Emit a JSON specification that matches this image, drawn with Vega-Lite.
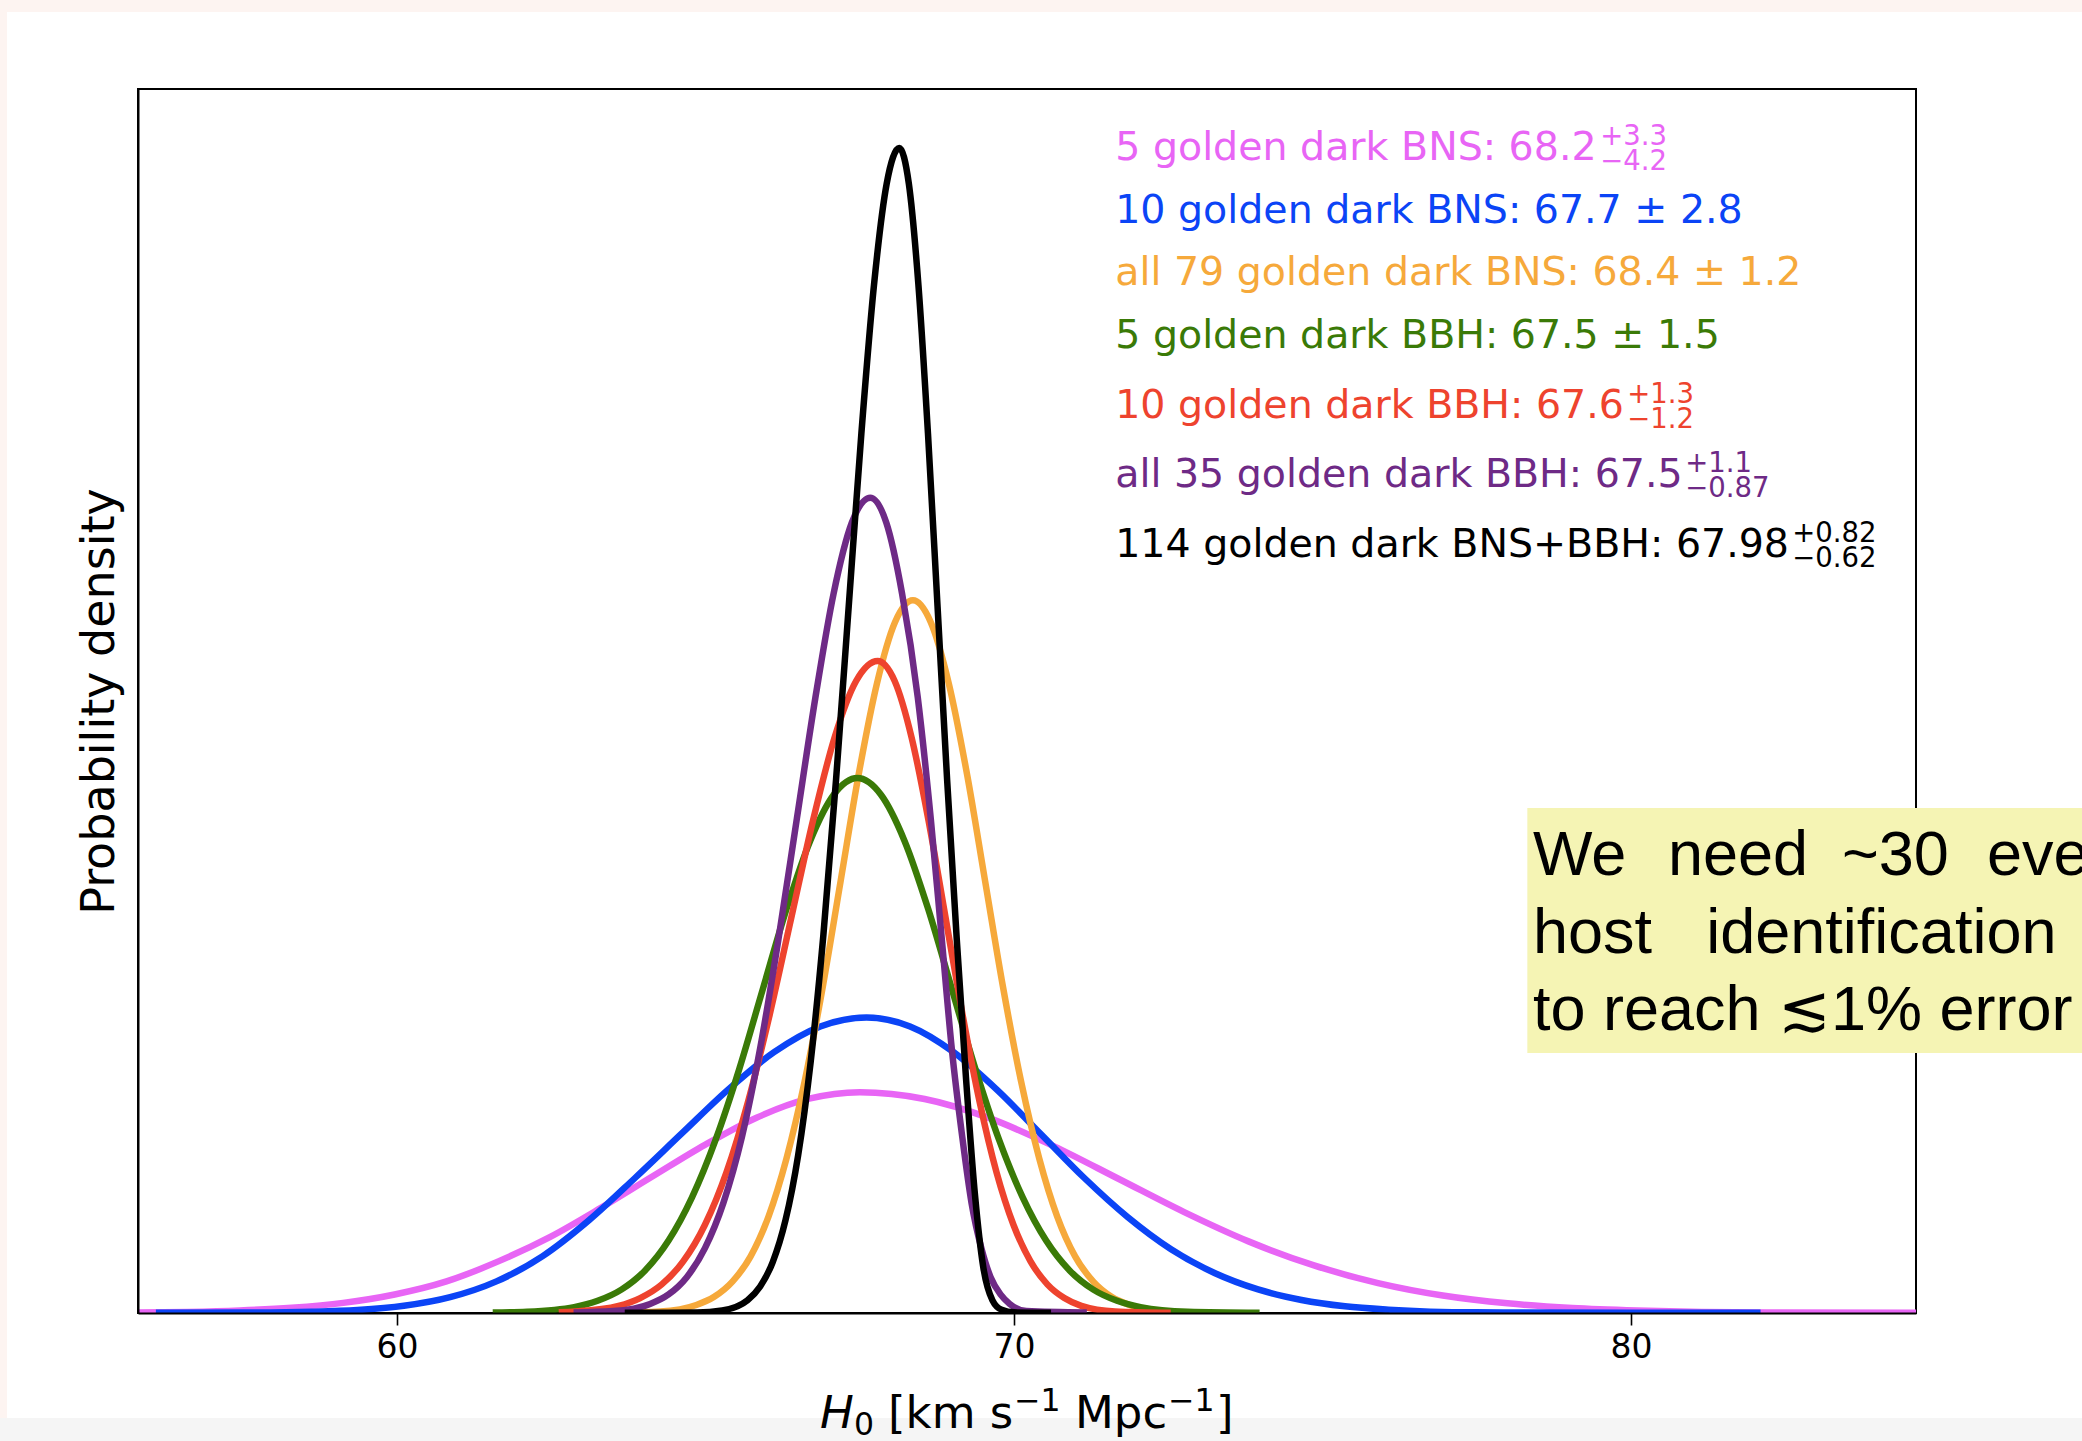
{
  "$schema": "https://vega.github.io/schema/vega-lite/v6.json",
  "width": 1778,
  "height": 1224,
  "autosize": {"type": "none"},
  "padding": {"left": 138, "top": 89, "right": 166, "bottom": 128},
  "background": "#fdf4f1",
  "config": {"view": {"stroke": null}},
  "datasets": {
    "curves": [
      {"s": "5 BNS", "h": 55.8, "p": 0.0002}, {"s": "5 BNS", "h": 56.61, "p": 0.0005}, {"s": "5 BNS", "h": 57.45, "p": 0.0012},
      {"s": "5 BNS", "h": 58.29, "p": 0.0025}, {"s": "5 BNS", "h": 59.125, "p": 0.0048}, {"s": "5 BNS", "h": 59.96, "p": 0.0088},
      {"s": "5 BNS", "h": 60.8, "p": 0.015}, {"s": "5 BNS", "h": 61.64, "p": 0.0245}, {"s": "5 BNS", "h": 62.475, "p": 0.036},
      {"s": "5 BNS", "h": 63.31, "p": 0.05}, {"s": "5 BNS", "h": 64.15, "p": 0.065}, {"s": "5 BNS", "h": 64.99, "p": 0.0798},
      {"s": "5 BNS", "h": 65.825, "p": 0.0927}, {"s": "5 BNS", "h": 66.66, "p": 0.1016}, {"s": "5 BNS", "h": 67.5, "p": 0.1048},
      {"s": "5 BNS", "h": 68.55, "p": 0.1016}, {"s": "5 BNS", "h": 69.6, "p": 0.0925}, {"s": "5 BNS", "h": 70.65, "p": 0.0791},
      {"s": "5 BNS", "h": 71.7, "p": 0.0636}, {"s": "5 BNS", "h": 72.75, "p": 0.048}, {"s": "5 BNS", "h": 73.8, "p": 0.034},
      {"s": "5 BNS", "h": 74.85, "p": 0.0227}, {"s": "5 BNS", "h": 75.9, "p": 0.0142}, {"s": "5 BNS", "h": 76.95, "p": 0.0083},
      {"s": "5 BNS", "h": 78.0, "p": 0.0046}, {"s": "5 BNS", "h": 79.05, "p": 0.0024}, {"s": "5 BNS", "h": 80.1, "p": 0.0012},
      {"s": "5 BNS", "h": 81.15, "p": 0.0005}, {"s": "5 BNS", "h": 82.2, "p": 0.0002}, {"s": "5 BNS", "h": 84.62, "p": 0.0001},

      {"s": "10 BNS", "h": 56.09, "p": 0.0001}, {"s": "10 BNS", "h": 57.5, "p": 0.0002}, {"s": "10 BNS", "h": 58.61, "p": 0.0006},
      {"s": "10 BNS", "h": 59.36, "p": 0.0014}, {"s": "10 BNS", "h": 60.11, "p": 0.0034}, {"s": "10 BNS", "h": 60.86, "p": 0.0075},
      {"s": "10 BNS", "h": 61.61, "p": 0.015}, {"s": "10 BNS", "h": 62.36, "p": 0.027}, {"s": "10 BNS", "h": 63.11, "p": 0.044},
      {"s": "10 BNS", "h": 63.86, "p": 0.0642}, {"s": "10 BNS", "h": 64.61, "p": 0.0851}, {"s": "10 BNS", "h": 65.36, "p": 0.1059},
      {"s": "10 BNS", "h": 66.11, "p": 0.1238}, {"s": "10 BNS", "h": 66.86, "p": 0.136}, {"s": "10 BNS", "h": 67.61, "p": 0.1403},
      {"s": "10 BNS", "h": 68.315, "p": 0.136}, {"s": "10 BNS", "h": 69.02, "p": 0.1238}, {"s": "10 BNS", "h": 69.725, "p": 0.1059},
      {"s": "10 BNS", "h": 70.43, "p": 0.0851}, {"s": "10 BNS", "h": 71.135, "p": 0.0642}, {"s": "10 BNS", "h": 71.84, "p": 0.0456},
      {"s": "10 BNS", "h": 72.545, "p": 0.0303}, {"s": "10 BNS", "h": 73.25, "p": 0.019}, {"s": "10 BNS", "h": 73.955, "p": 0.0112},
      {"s": "10 BNS", "h": 74.66, "p": 0.0062}, {"s": "10 BNS", "h": 75.365, "p": 0.0032}, {"s": "10 BNS", "h": 76.07, "p": 0.0016},
      {"s": "10 BNS", "h": 77.48, "p": 0.0003}, {"s": "10 BNS", "h": 80.0, "p": 0.0001}, {"s": "10 BNS", "h": 82.1, "p": 0.0001},

      {"s": "79 BNS", "h": 63.5, "p": 0.0001}, {"s": "79 BNS", "h": 64.265, "p": 0.0007}, {"s": "79 BNS", "h": 64.85, "p": 0.0038},
      {"s": "79 BNS", "h": 65.14, "p": 0.0077}, {"s": "79 BNS", "h": 65.435, "p": 0.0149}, {"s": "79 BNS", "h": 65.73, "p": 0.0269},
      {"s": "79 BNS", "h": 66.02, "p": 0.0458}, {"s": "79 BNS", "h": 66.31, "p": 0.0732}, {"s": "79 BNS", "h": 66.605, "p": 0.1098},
      {"s": "79 BNS", "h": 66.9, "p": 0.1549}, {"s": "79 BNS", "h": 67.19, "p": 0.2052}, {"s": "79 BNS", "h": 67.48, "p": 0.2554},
      {"s": "79 BNS", "h": 67.775, "p": 0.2985}, {"s": "79 BNS", "h": 68.07, "p": 0.3279}, {"s": "79 BNS", "h": 68.36, "p": 0.3383},
      {"s": "79 BNS", "h": 68.65, "p": 0.3279}, {"s": "79 BNS", "h": 68.945, "p": 0.2985}, {"s": "79 BNS", "h": 69.24, "p": 0.2554},
      {"s": "79 BNS", "h": 69.53, "p": 0.2052}, {"s": "79 BNS", "h": 69.82, "p": 0.1549}, {"s": "79 BNS", "h": 70.115, "p": 0.1098},
      {"s": "79 BNS", "h": 70.41, "p": 0.0732}, {"s": "79 BNS", "h": 70.7, "p": 0.0458}, {"s": "79 BNS", "h": 70.99, "p": 0.0269},
      {"s": "79 BNS", "h": 71.285, "p": 0.0149}, {"s": "79 BNS", "h": 71.58, "p": 0.0077}, {"s": "79 BNS", "h": 71.87, "p": 0.0038},
      {"s": "79 BNS", "h": 72.455, "p": 0.0007},

      {"s": "5 BBH", "h": 61.55, "p": 0.0002}, {"s": "5 BBH", "h": 62.105, "p": 0.0006}, {"s": "5 BBH", "h": 62.87, "p": 0.0028},
      {"s": "5 BBH", "h": 63.25, "p": 0.0058}, {"s": "5 BBH", "h": 63.635, "p": 0.0111}, {"s": "5 BBH", "h": 64.02, "p": 0.0202},
      {"s": "5 BBH", "h": 64.4, "p": 0.0344}, {"s": "5 BBH", "h": 64.78, "p": 0.0549}, {"s": "5 BBH", "h": 65.165, "p": 0.0824},
      {"s": "5 BBH", "h": 65.55, "p": 0.1162}, {"s": "5 BBH", "h": 65.93, "p": 0.154}, {"s": "5 BBH", "h": 66.31, "p": 0.1916},
      {"s": "5 BBH", "h": 66.695, "p": 0.2241}, {"s": "5 BBH", "h": 67.08, "p": 0.2461}, {"s": "5 BBH", "h": 67.46, "p": 0.2539},
      {"s": "5 BBH", "h": 67.84, "p": 0.2461}, {"s": "5 BBH", "h": 68.225, "p": 0.2241}, {"s": "5 BBH", "h": 68.61, "p": 0.1916},
      {"s": "5 BBH", "h": 68.99, "p": 0.154}, {"s": "5 BBH", "h": 69.37, "p": 0.1162}, {"s": "5 BBH", "h": 69.755, "p": 0.0824},
      {"s": "5 BBH", "h": 70.14, "p": 0.0549}, {"s": "5 BBH", "h": 70.52, "p": 0.0344}, {"s": "5 BBH", "h": 70.9, "p": 0.0202},
      {"s": "5 BBH", "h": 71.285, "p": 0.0111}, {"s": "5 BBH", "h": 71.67, "p": 0.0058}, {"s": "5 BBH", "h": 72.05, "p": 0.0028},
      {"s": "5 BBH", "h": 72.815, "p": 0.0006}, {"s": "5 BBH", "h": 73.98, "p": 0.0001},

      {"s": "10 BBH", "h": 62.62, "p": 0.0003}, {"s": "10 BBH", "h": 62.89, "p": 0.0007}, {"s": "10 BBH", "h": 63.59, "p": 0.0034},
      {"s": "10 BBH", "h": 63.94, "p": 0.0071}, {"s": "10 BBH", "h": 64.29, "p": 0.0136}, {"s": "10 BBH", "h": 64.64, "p": 0.0246},
      {"s": "10 BBH", "h": 64.99, "p": 0.0419}, {"s": "10 BBH", "h": 65.34, "p": 0.0669}, {"s": "10 BBH", "h": 65.69, "p": 0.1005},
      {"s": "10 BBH", "h": 66.04, "p": 0.1417}, {"s": "10 BBH", "h": 66.39, "p": 0.1877}, {"s": "10 BBH", "h": 66.74, "p": 0.2336},
      {"s": "10 BBH", "h": 67.09, "p": 0.2731}, {"s": "10 BBH", "h": 67.44, "p": 0.3}, {"s": "10 BBH", "h": 67.79, "p": 0.3095},
      {"s": "10 BBH", "h": 68.065, "p": 0.3}, {"s": "10 BBH", "h": 68.34, "p": 0.2731}, {"s": "10 BBH", "h": 68.615, "p": 0.2336},
      {"s": "10 BBH", "h": 68.89, "p": 0.1877}, {"s": "10 BBH", "h": 69.165, "p": 0.1417}, {"s": "10 BBH", "h": 69.44, "p": 0.1005},
      {"s": "10 BBH", "h": 69.715, "p": 0.0669}, {"s": "10 BBH", "h": 69.99, "p": 0.0419}, {"s": "10 BBH", "h": 70.265, "p": 0.0246},
      {"s": "10 BBH", "h": 70.54, "p": 0.0136}, {"s": "10 BBH", "h": 70.815, "p": 0.0071}, {"s": "10 BBH", "h": 71.09, "p": 0.0034},
      {"s": "10 BBH", "h": 71.64, "p": 0.0007}, {"s": "10 BBH", "h": 72.54, "p": 0.0001},

      {"s": "35 BBH", "h": 62.86, "p": 0.0002}, {"s": "35 BBH", "h": 63.505, "p": 0.0009}, {"s": "35 BBH", "h": 64.1, "p": 0.0043},
      {"s": "35 BBH", "h": 64.4, "p": 0.0088}, {"s": "35 BBH", "h": 64.695, "p": 0.017}, {"s": "35 BBH", "h": 64.99, "p": 0.0308},
      {"s": "35 BBH", "h": 65.29, "p": 0.0524}, {"s": "35 BBH", "h": 65.59, "p": 0.0837}, {"s": "35 BBH", "h": 65.885, "p": 0.1257},
      {"s": "35 BBH", "h": 66.18, "p": 0.1772}, {"s": "35 BBH", "h": 66.48, "p": 0.2347}, {"s": "35 BBH", "h": 66.78, "p": 0.2921},
      {"s": "35 BBH", "h": 67.075, "p": 0.3415}, {"s": "35 BBH", "h": 67.37, "p": 0.3751}, {"s": "35 BBH", "h": 67.67, "p": 0.387},
      {"s": "35 BBH", "h": 67.93, "p": 0.3751}, {"s": "35 BBH", "h": 68.185, "p": 0.3415}, {"s": "35 BBH", "h": 68.44, "p": 0.2921},
      {"s": "35 BBH", "h": 68.65, "p": 0.2347}, {"s": "35 BBH", "h": 68.83, "p": 0.1772}, {"s": "35 BBH", "h": 68.99, "p": 0.1257},
      {"s": "35 BBH", "h": 69.16, "p": 0.0837}, {"s": "35 BBH", "h": 69.31, "p": 0.0524}, {"s": "35 BBH", "h": 69.47, "p": 0.0308},
      {"s": "35 BBH", "h": 69.62, "p": 0.017}, {"s": "35 BBH", "h": 69.78, "p": 0.0088}, {"s": "35 BBH", "h": 69.93, "p": 0.0043},
      {"s": "35 BBH", "h": 70.2, "p": 0.0009}, {"s": "35 BBH", "h": 71.18, "p": 0.0002},

      {"s": "114 BNS+BBH", "h": 63.69, "p": 0.0001}, {"s": "114 BNS+BBH", "h": 64.86, "p": 0.0002}, {"s": "114 BNS+BBH", "h": 65.27, "p": 0.0012},
      {"s": "114 BNS+BBH", "h": 65.68, "p": 0.0061}, {"s": "114 BNS+BBH", "h": 65.885, "p": 0.0126}, {"s": "114 BNS+BBH", "h": 66.09, "p": 0.0243},
      {"s": "114 BNS+BBH", "h": 66.295, "p": 0.044}, {"s": "114 BNS+BBH", "h": 66.5, "p": 0.0748}, {"s": "114 BNS+BBH", "h": 66.705, "p": 0.1196},
      {"s": "114 BNS+BBH", "h": 66.91, "p": 0.1796}, {"s": "114 BNS+BBH", "h": 67.115, "p": 0.2532}, {"s": "114 BNS+BBH", "h": 67.32, "p": 0.3354},
      {"s": "114 BNS+BBH", "h": 67.525, "p": 0.4174}, {"s": "114 BNS+BBH", "h": 67.73, "p": 0.488}, {"s": "114 BNS+BBH", "h": 67.935, "p": 0.536},
      {"s": "114 BNS+BBH", "h": 68.14, "p": 0.553}, {"s": "114 BNS+BBH", "h": 68.295, "p": 0.536}, {"s": "114 BNS+BBH", "h": 68.45, "p": 0.488},
      {"s": "114 BNS+BBH", "h": 68.605, "p": 0.4174}, {"s": "114 BNS+BBH", "h": 68.76, "p": 0.3354}, {"s": "114 BNS+BBH", "h": 68.915, "p": 0.2532},
      {"s": "114 BNS+BBH", "h": 69.07, "p": 0.178}, {"s": "114 BNS+BBH", "h": 69.22, "p": 0.112}, {"s": "114 BNS+BBH", "h": 69.37, "p": 0.055},
      {"s": "114 BNS+BBH", "h": 69.5, "p": 0.022}, {"s": "114 BNS+BBH", "h": 69.65, "p": 0.006}, {"s": "114 BNS+BBH", "h": 69.8, "p": 0.0015},
      {"s": "114 BNS+BBH", "h": 70.0, "p": 0.0003}, {"s": "114 BNS+BBH", "h": 70.6, "p": 0.0001}
    ]
  },
  "layer": [
    {
      "data": {"values": [{}]},
      "mark": {"type": "rect", "color": "#ffffff"},
      "encoding": {
        "x": {"datum": 53.676}, "x2": {"datum": 95},
        "y": {"datum": -1}, "y2": {"datum": 0.6176}
      }
    },
    {
      "data": {"values": [{}]},
      "mark": {"type": "rect", "color": "#f5f5f5"},
      "encoding": {
        "x": {"datum": 40}, "x2": {"datum": 95},
        "y": {"datum": -1}, "y2": {"datum": -0.0498}
      }
    },
    {
      "data": {"values": [{}]},
      "mark": {"type": "rect", "filled": false, "stroke": "#000000", "strokeWidth": 2},
      "encoding": {
        "x": {"datum": 55.8}, "x2": {"datum": 84.62},
        "y": {"datum": 0}, "y2": {"datum": 0.581}
      }
    },
    {
      "data": {"values": [{}]},
      "mark": {"type": "rect", "color": "#f5f4b4"},
      "encoding": {
        "x": {"datum": 78.32}, "x2": {"datum": 95},
        "y": {"datum": 0.1234}, "y2": {"datum": 0.2397}
      }
    },
    {
      "data": {"name": "curves"},
      "mark": {"type": "line", "strokeWidth": 6.5, "interpolate": "monotone", "clip": true, "strokeJoin": "round"},
      "encoding": {
        "x": {
          "field": "h", "type": "quantitative",
          "scale": {"domain": [55.8, 84.62], "nice": false, "zero": false},
          "axis": {
            "values": [60, 70, 80], "format": "d", "title": null, "grid": false,
            "labelFont": "DejaVu Sans", "labelFontSize": 33, "labelColor": "#000000", "labelPadding": 6,
            "tickSize": 12, "tickWidth": 1.6, "tickColor": "#000000",
            "domainColor": "#000000", "domainWidth": 2, "zindex": 1
          }
        },
        "y": {
          "field": "p", "type": "quantitative",
          "scale": {"domain": [0, 0.581], "nice": false},
          "axis": {
            "title": "Probability density", "titleFont": "DejaVu Sans", "titleFontSize": 46,
            "titleFontWeight": "normal", "titleColor": "#000000", "titlePadding": 15,
            "ticks": false, "labels": false, "grid": false,
            "domainColor": "#000000", "domainWidth": 2, "zindex": 1
          }
        },
        "color": {
          "field": "s", "type": "nominal", "legend": null,
          "scale": {
            "domain": ["5 BNS", "10 BNS", "79 BNS", "5 BBH", "10 BBH", "35 BBH", "114 BNS+BBH"],
            "range": ["#e865f5", "#0b44f6", "#f6a93b", "#3a7a07", "#ee432e", "#6e2a86", "#000000"]
          }
        }
      }
    },
    {
      "data": {"values": [{"s": "5 BNS", "label": "5 golden dark BNS: 68.2", "up": "+3.3", "lo": "−4.2"}]},
      "encoding": {"x": {"datum": 71.64}, "y": {"datum": 0.5473}, "color": {"field": "s", "type": "nominal", "legend": null}},
      "layer": [
        {"mark": {"type": "text", "align": "left", "baseline": "alphabetic", "font": "DejaVu Sans", "fontSize": 39.5}, "encoding": {"text": {"field": "label"}}},
        {"mark": {"type": "text", "align": "left", "baseline": "alphabetic", "font": "DejaVu Sans", "fontSize": 27.5, "dx": 485, "dy": -15}, "encoding": {"text": {"field": "up"}}},
        {"mark": {"type": "text", "align": "left", "baseline": "alphabetic", "font": "DejaVu Sans", "fontSize": 27.5, "dx": 485, "dy": 10}, "encoding": {"text": {"field": "lo"}}}
      ]
    },
    {
      "data": {"values": [{"s": "10 BNS", "label": "10 golden dark BNS: 67.7 ± 2.8"}]},
      "mark": {"type": "text", "align": "left", "baseline": "alphabetic", "font": "DejaVu Sans", "fontSize": 39.5},
      "encoding": {"x": {"datum": 71.64}, "y": {"datum": 0.5174}, "text": {"field": "label"}, "color": {"field": "s", "type": "nominal", "legend": null}}
    },
    {
      "data": {"values": [{"s": "79 BNS", "label": "all 79 golden dark BNS: 68.4 ± 1.2"}]},
      "mark": {"type": "text", "align": "left", "baseline": "alphabetic", "font": "DejaVu Sans", "fontSize": 39.5},
      "encoding": {"x": {"datum": 71.64}, "y": {"datum": 0.488}, "text": {"field": "label"}, "color": {"field": "s", "type": "nominal", "legend": null}}
    },
    {
      "data": {"values": [{"s": "5 BBH", "label": "5 golden dark BBH: 67.5 ± 1.5"}]},
      "mark": {"type": "text", "align": "left", "baseline": "alphabetic", "font": "DejaVu Sans", "fontSize": 39.5},
      "encoding": {"x": {"datum": 71.64}, "y": {"datum": 0.4581}, "text": {"field": "label"}, "color": {"field": "s", "type": "nominal", "legend": null}}
    },
    {
      "data": {"values": [{"s": "10 BBH", "label": "10 golden dark BBH: 67.6", "up": "+1.3", "lo": "−1.2"}]},
      "encoding": {"x": {"datum": 71.64}, "y": {"datum": 0.4248}, "color": {"field": "s", "type": "nominal", "legend": null}},
      "layer": [
        {"mark": {"type": "text", "align": "left", "baseline": "alphabetic", "font": "DejaVu Sans", "fontSize": 39.5}, "encoding": {"text": {"field": "label"}}},
        {"mark": {"type": "text", "align": "left", "baseline": "alphabetic", "font": "DejaVu Sans", "fontSize": 27.5, "dx": 512, "dy": -15}, "encoding": {"text": {"field": "up"}}},
        {"mark": {"type": "text", "align": "left", "baseline": "alphabetic", "font": "DejaVu Sans", "fontSize": 27.5, "dx": 512, "dy": 10}, "encoding": {"text": {"field": "lo"}}}
      ]
    },
    {
      "data": {"values": [{"s": "35 BBH", "label": "all 35 golden dark BBH: 67.5", "up": "+1.1", "lo": "−0.87"}]},
      "encoding": {"x": {"datum": 71.64}, "y": {"datum": 0.392}, "color": {"field": "s", "type": "nominal", "legend": null}},
      "layer": [
        {"mark": {"type": "text", "align": "left", "baseline": "alphabetic", "font": "DejaVu Sans", "fontSize": 39.5}, "encoding": {"text": {"field": "label"}}},
        {"mark": {"type": "text", "align": "left", "baseline": "alphabetic", "font": "DejaVu Sans", "fontSize": 27.5, "dx": 570, "dy": -15}, "encoding": {"text": {"field": "up"}}},
        {"mark": {"type": "text", "align": "left", "baseline": "alphabetic", "font": "DejaVu Sans", "fontSize": 27.5, "dx": 570, "dy": 10}, "encoding": {"text": {"field": "lo"}}}
      ]
    },
    {
      "data": {"values": [{"s": "114 BNS+BBH", "label": "114 golden dark BNS+BBH: 67.98", "up": "+0.82", "lo": "−0.62"}]},
      "encoding": {"x": {"datum": 71.64}, "y": {"datum": 0.3588}, "color": {"field": "s", "type": "nominal", "legend": null}},
      "layer": [
        {"mark": {"type": "text", "align": "left", "baseline": "alphabetic", "font": "DejaVu Sans", "fontSize": 39.5}, "encoding": {"text": {"field": "label"}}},
        {"mark": {"type": "text", "align": "left", "baseline": "alphabetic", "font": "DejaVu Sans", "fontSize": 27.5, "dx": 677, "dy": -15}, "encoding": {"text": {"field": "up"}}},
        {"mark": {"type": "text", "align": "left", "baseline": "alphabetic", "font": "DejaVu Sans", "fontSize": 27.5, "dx": 677, "dy": 10}, "encoding": {"text": {"field": "lo"}}}
      ]
    },
    {
      "data": {"values": [{"h": "H", "sub": "0", "a": "[km s", "sup": "−1", "b": "Mpc", "c": "]"}]},
      "encoding": {"x": {"datum": 66.855}, "y": {"datum": -0.0545}},
      "layer": [
        {"mark": {"type": "text", "align": "left", "baseline": "alphabetic", "font": "DejaVu Sans", "fontSize": 45, "fontStyle": "italic", "color": "#000000"}, "encoding": {"text": {"field": "h"}}},
        {"mark": {"type": "text", "align": "left", "baseline": "alphabetic", "font": "DejaVu Sans", "fontSize": 31.5, "dx": 34, "dy": 7, "color": "#000000"}, "encoding": {"text": {"field": "sub"}}},
        {"mark": {"type": "text", "align": "left", "baseline": "alphabetic", "font": "DejaVu Sans", "fontSize": 45, "dx": 68, "color": "#000000"}, "encoding": {"text": {"field": "a"}}},
        {"mark": {"type": "text", "align": "left", "baseline": "alphabetic", "font": "DejaVu Sans", "fontSize": 31.5, "dx": 194, "dy": -17, "color": "#000000"}, "encoding": {"text": {"field": "sup"}}},
        {"mark": {"type": "text", "align": "left", "baseline": "alphabetic", "font": "DejaVu Sans", "fontSize": 45, "dx": 255, "color": "#000000"}, "encoding": {"text": {"field": "b"}}},
        {"mark": {"type": "text", "align": "left", "baseline": "alphabetic", "font": "DejaVu Sans", "fontSize": 31.5, "dx": 348, "dy": -17, "color": "#000000"}, "encoding": {"text": {"field": "sup"}}},
        {"mark": {"type": "text", "align": "left", "baseline": "alphabetic", "font": "DejaVu Sans", "fontSize": 45, "dx": 396, "color": "#000000"}, "encoding": {"text": {"field": "c"}}}
      ]
    },
    {
      "data": {"values": [{"t": "We"}]},
      "mark": {"type": "text", "align": "left", "baseline": "alphabetic", "font": "Liberation Sans", "fontSize": 63, "color": "#000000"},
      "encoding": {"x": {"datum": 78.41}, "y": {"datum": 0.2079}, "text": {"field": "t"}}
    },
    {
      "data": {"values": [{"t": "need"}]},
      "mark": {"type": "text", "align": "left", "baseline": "alphabetic", "font": "Liberation Sans", "fontSize": 63, "color": "#000000"},
      "encoding": {"x": {"datum": 80.6}, "y": {"datum": 0.2079}, "text": {"field": "t"}}
    },
    {
      "data": {"values": [{"t": "~30"}]},
      "mark": {"type": "text", "align": "left", "baseline": "alphabetic", "font": "Liberation Sans", "fontSize": 63, "color": "#000000"},
      "encoding": {"x": {"datum": 83.42}, "y": {"datum": 0.2079}, "text": {"field": "t"}}
    },
    {
      "data": {"values": [{"t": "eve"}]},
      "mark": {"type": "text", "align": "left", "baseline": "alphabetic", "font": "Liberation Sans", "fontSize": 63, "color": "#000000"},
      "encoding": {"x": {"datum": 85.77}, "y": {"datum": 0.2079}, "text": {"field": "t"}}
    },
    {
      "data": {"values": [{"t": "host"}]},
      "mark": {"type": "text", "align": "left", "baseline": "alphabetic", "font": "Liberation Sans", "fontSize": 63, "color": "#000000"},
      "encoding": {"x": {"datum": 78.41}, "y": {"datum": 0.1709}, "text": {"field": "t"}}
    },
    {
      "data": {"values": [{"t": "identification"}]},
      "mark": {"type": "text", "align": "left", "baseline": "alphabetic", "font": "Liberation Sans", "fontSize": 63, "color": "#000000"},
      "encoding": {"x": {"datum": 81.22}, "y": {"datum": 0.1709}, "text": {"field": "t"}}
    },
    {
      "data": {"values": [{"t": "to reach ≲1% error"}]},
      "mark": {"type": "text", "align": "left", "baseline": "alphabetic", "font": "Liberation Sans", "fontSize": 63, "color": "#000000"},
      "encoding": {"x": {"datum": 78.41}, "y": {"datum": 0.1343}, "text": {"field": "t"}}
    }
  ]
}
